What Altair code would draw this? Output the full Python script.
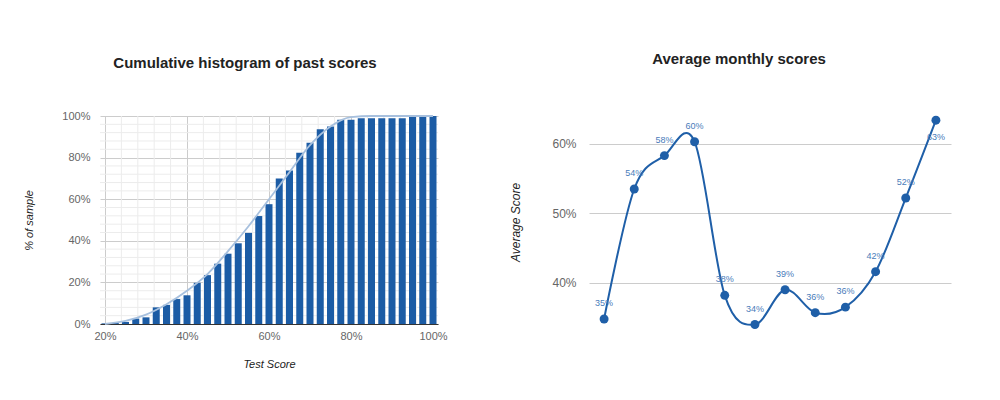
import pandas as pd
import altair as alt

FONT = "Liberation Sans"

# cumulative histogram: test score bins (%) and share of sample (%)
score_bins = [20, 22.5, 25, 27.5, 30, 32.5, 35, 37.5, 40, 42.5, 45, 47.5, 50,
              52.5, 55, 57.5, 60, 62.5, 65, 67.5, 70, 72.5, 75, 77.5, 80,
              82.5, 85, 87.5, 90, 92.5, 95, 97.5, 100]
cum_share = [0.3, 0.5, 1.0, 2.6, 3.2, 8.0, 9.2, 12.0, 13.8, 19.8, 23.5, 29.0,
             33.8, 38.8, 43.8, 51.9, 57.6, 69.9, 73.8, 82.3, 87.1, 93.6, 95.0,
             98.2, 98.2, 98.9, 98.9, 98.9, 98.9, 98.9, 99.5, 100, 100]

# smooth fitted curve over the histogram
fit_x = [20, 25, 30, 35, 40, 45, 50, 55, 60, 65, 70, 75, 80, 85, 90, 95, 100]
fit_y = [0, 1.5, 4.5, 9.5, 16, 24, 35, 47, 60, 73, 86, 95, 99.5, 100, 100, 100, 100]

# gridlines of the left panel
major_x = [20, 40, 60, 80, 100]
major_y = [0, 20, 40, 60, 80, 100]
minor_x = [v for v in range(20, 101, 4) if v % 20 != 0]
minor_y = [v for v in range(0, 101, 4) if v % 20 != 0]

# average monthly scores
months = ["Jan", "Feb", "Mar", "Apr", "May", "Jun",
          "Jul", "Aug", "Sep", "Oct", "Nov", "Dec"]
avg_score = [34.8, 53.5, 58.3, 60.3, 38.2, 34.0, 39.0, 35.7, 36.5, 41.6, 52.2, 63.4]

hist_df = pd.DataFrame({"score": score_bins, "share": cum_share})
fit_df = pd.DataFrame({"score": fit_x, "share": fit_y})
monthly_df = pd.DataFrame({"idx": list(range(1, 13)), "month": months, "avg": avg_score})
monthly_df["label"] = monthly_df["avg"].round().astype(int).astype(str) + "%"

x_scale = alt.Scale(domain=[20, 100], nice=False)
y_scale = alt.Scale(domain=[0, 100], nice=False)

x_axis = alt.Axis(values=major_x, labelExpr="datum.value + '%'", title="Test Score",
                  titleFontStyle="italic", titleFontWeight="normal", titleFontSize=11,
                  titlePadding=17, labelPadding=6, ticks=False, domain=True,
                  domainColor="#333333", gridColor="#cccccc", labelColor="#666666",
                  labelFontSize=11, titleColor="#222222")
y_axis = alt.Axis(values=major_y, labelExpr="datum.value + '%'", title="% of sample",
                  titleFontStyle="italic", titleFontWeight="normal", titleFontSize=11,
                  titlePadding=27, labelPadding=10, ticks=False, domain=False,
                  gridColor="#cccccc", labelColor="#666666", labelFontSize=11,
                  titleColor="#222222")

minor_v = alt.Chart(pd.DataFrame({"v": minor_x})).mark_rule(
    color="#ececec", strokeWidth=1).encode(
    x=alt.X("v:Q", scale=x_scale, axis=x_axis))
minor_h = alt.Chart(pd.DataFrame({"v": minor_y})).mark_rule(
    color="#ececec", strokeWidth=1).encode(
    y=alt.Y("v:Q", scale=y_scale, axis=y_axis))

bars = alt.Chart(hist_df).mark_bar(color="#1c5ca5", size=7, clip=True).encode(
    x=alt.X("score:Q", scale=x_scale, axis=x_axis),
    y=alt.Y("share:Q", scale=y_scale, axis=y_axis))

fit = alt.Chart(fit_df).mark_line(
    color="#a7c0de", strokeWidth=1.8, interpolate="monotone").encode(
    x=alt.X("score:Q", scale=x_scale, axis=x_axis),
    y=alt.Y("share:Q", scale=y_scale, axis=y_axis))

left = alt.layer(minor_v, minor_h, bars, fit).properties(
    width=338, height=208,
    title=alt.TitleParams("Cumulative histogram of past scores", fontSize=15,
                          font=FONT, fontWeight="bold", color="#222222",
                          anchor="middle", dx=-24, offset=39))

# right panel
rx = alt.Scale(domain=[0.5, 12.5], nice=False)
ry = alt.Scale(domain=[33.5, 64], nice=False, zero=False)
r_axis = alt.Axis(values=[40, 50, 60], labelExpr="datum.value + '%'",
                  title="Average Score", titleFontStyle="italic",
                  titleFontWeight="normal", titleFontSize=12, titlePadding=29,
                  labelPadding=13, ticks=False, domain=False, gridColor="#cccccc",
                  labelColor="#666666", labelFontSize=12, titleColor="#222222")

base = alt.Chart(monthly_df).encode(
    x=alt.X("idx:Q", scale=rx, axis=None),
    y=alt.Y("avg:Q", scale=ry, axis=r_axis))

line = base.mark_line(color="#1f5fa8", strokeWidth=2, interpolate="cardinal")
points = base.mark_circle(color="#1f5fa8", size=80, opacity=1).encode(
    tooltip=["month:N", "label:N"])
labels_up = base.transform_filter("datum.idx < 12").mark_text(
    dy=-16, fontSize=9, color="#4a7cba", font=FONT).encode(text="label:N")
labels_down = base.transform_filter("datum.idx == 12").mark_text(
    dy=17, fontSize=9, color="#4a7cba", font=FONT).encode(text="label:N")

right = alt.layer(line, points, labels_up, labels_down).properties(
    width=362, height=212,
    title=alt.TitleParams("Average monthly scores", fontSize=15, font=FONT,
                          fontWeight="bold", color="#222222", anchor="middle",
                          dx=-31, offset=49))

chart = alt.hconcat(left, right, spacing=151, bounds="flush").properties(
    padding={"left": 15, "top": 43, "right": 5, "bottom": 5}
).configure(font=FONT).configure_view(stroke=None)

chart.save("out.html", embed_options={"renderer": "svg", "actions": False})
